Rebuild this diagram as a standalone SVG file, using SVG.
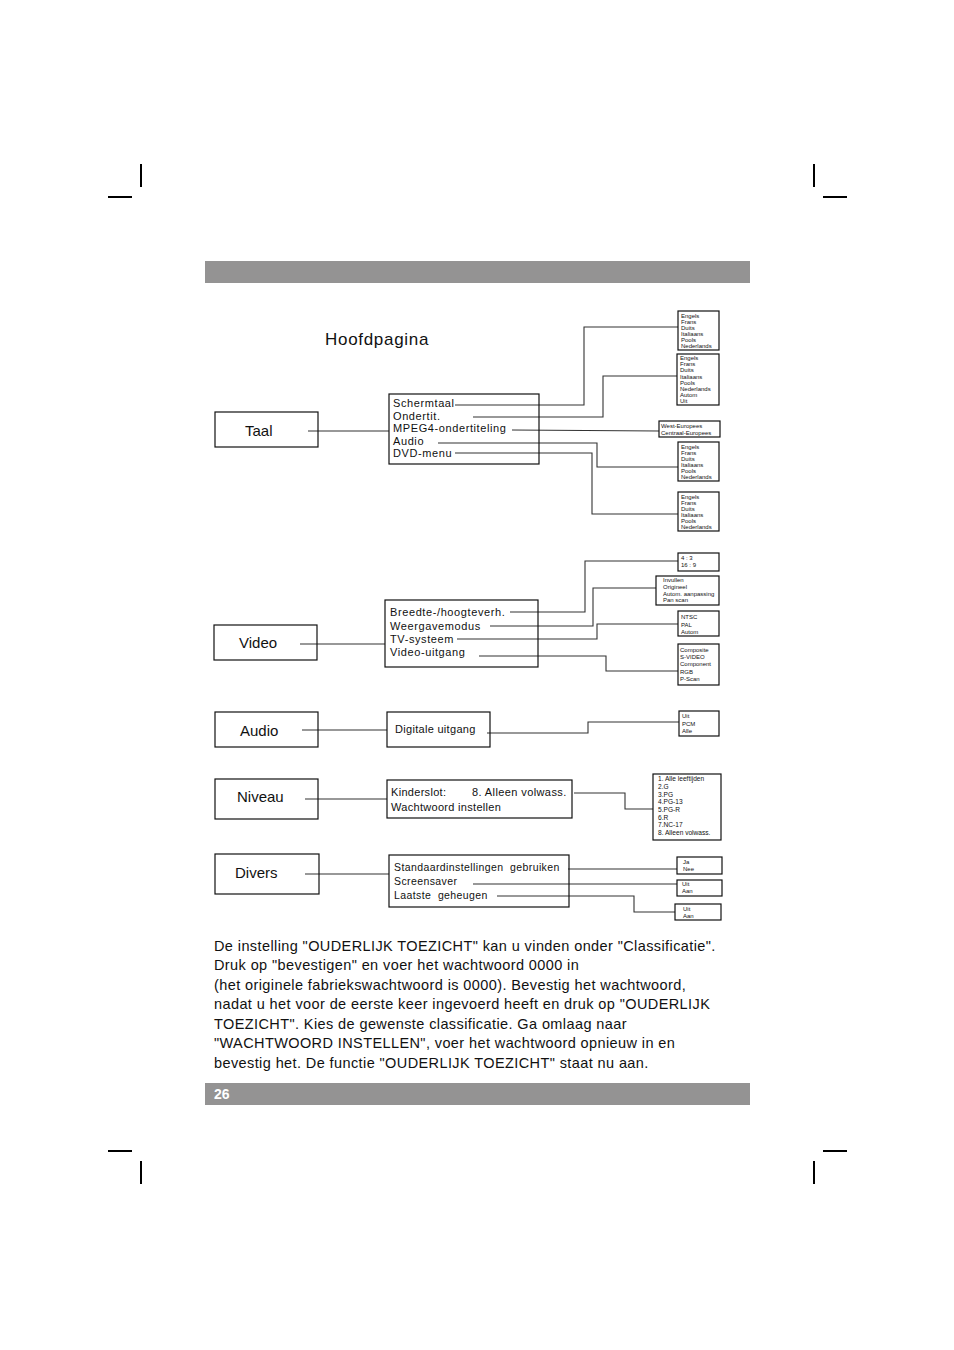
<svg xmlns="http://www.w3.org/2000/svg" width="954" height="1350" viewBox="0 0 954 1350">
<style>
text{font-family:"Liberation Sans",Arial,sans-serif;fill:#111}
.box{fill:none;stroke:#111;stroke-width:1.2}
.crop{stroke:#000;stroke-width:2}
.con{fill:none;stroke:#333;stroke-width:1.1}
.main{font-size:15px}
.sub{font-size:11px;letter-spacing:0.6px}
.tiny{font-size:6px}
.small{font-size:6.6px}
.para{font-size:14.5px;letter-spacing:0.4px}
.pre{white-space:pre}
</style>
<rect width="954" height="1350" fill="#fff"/>
<g id="cropmarks">
<line class="crop" x1="141" y1="164" x2="141" y2="187"/>
<line class="crop" x1="108" y1="197" x2="132" y2="197"/>
<line class="crop" x1="814" y1="164" x2="814" y2="187"/>
<line class="crop" x1="823" y1="197" x2="847" y2="197"/>
<line class="crop" x1="108" y1="1151" x2="132" y2="1151"/>
<line class="crop" x1="141" y1="1161" x2="141" y2="1184"/>
<line class="crop" x1="823" y1="1151" x2="847" y2="1151"/>
<line class="crop" x1="814" y1="1161" x2="814" y2="1184"/>
</g>
<rect id="header" x="205" y="261" width="545" height="22" fill="#949393"/>
<g id="footer"><rect x="205" y="1083" width="545" height="22" fill="#949393"/><text x="214" y="1099" style="font-size:14px;font-weight:bold;fill:#fff">26</text></g>
<text id="title" x="325" y="345" style="font-size:17px;letter-spacing:0.7px">Hoofdpagina</text>

<g id="connectors">
<line class="con" x1="308" y1="431" x2="389" y2="431"/>
<polyline class="con" points="455,405 584,405 584,327 678,327"/>
<polyline class="con" points="473,417 603,417 603,376 677,376"/>
<polyline class="con" points="512,430 659,431"/>
<polyline class="con" points="438,443 597,443 597,467 678,467"/>
<polyline class="con" points="455,453 592,453 592,514 678,514"/>
<line class="con" x1="300" y1="644" x2="385" y2="644"/>
<polyline class="con" points="510,612 585,612 585,561 678,561"/>
<polyline class="con" points="490,626 593,626 593,588 656,588"/>
<polyline class="con" points="457,639 597,639 597,624 678,624"/>
<polyline class="con" points="479,656 606,656 606,671 678,671"/>
<line class="con" x1="302" y1="730" x2="387" y2="730"/>
<polyline class="con" points="487,733 588,733 588,722 679,722"/>
<line class="con" x1="305" y1="799" x2="387" y2="799"/>
<polyline class="con" points="574,793 625,793 625,809 653,809"/>
<line class="con" x1="305" y1="874" x2="389" y2="874"/>
<polyline class="con" points="568,869 677,869"/>
<polyline class="con" points="473,884 677,884"/>
<polyline class="con" points="497,896 634,896 634,912 675,912"/>
</g>

<g id="taal"><rect class="box" x="215" y="412" width="103" height="35"/><text class="main" x="245" y="436">Taal</text></g>
<g id="taal-menu"><rect class="box" x="389" y="394" width="150" height="70"/>
<text class="sub" x="393" y="407">Schermtaal</text>
<text class="sub" x="393" y="420">Ondertit.</text>
<text class="sub" x="393" y="432">MPEG4-ondertiteling</text>
<text class="sub" x="393" y="445">Audio</text>
<text class="sub" x="393" y="457">DVD-menu</text></g>
<g id="taal-opt1"><rect class="box" x="678" y="311" width="41" height="39"/>
<text class="tiny" x="681" y="318">Engels</text><text class="tiny" x="681" y="324">Frans</text><text class="tiny" x="681" y="330">Duits</text><text class="tiny" x="681" y="336">Italiaans</text><text class="tiny" x="681" y="342">Pools</text><text class="tiny" x="681" y="348">Nederlands</text></g>
<g id="taal-opt2"><rect class="box" x="677" y="354" width="42" height="51"/>
<text class="tiny" x="680" y="360">Engels</text><text class="tiny" x="680" y="366">Frans</text><text class="tiny" x="680" y="372">Duits</text><text class="tiny" x="680" y="379">Italiaans</text><text class="tiny" x="680" y="385">Pools</text><text class="tiny" x="680" y="391">Nederlands</text><text class="tiny" x="680" y="397">Autom</text><text class="tiny" x="680" y="403">Uit</text></g>
<g id="taal-opt3"><rect class="box" x="659" y="421" width="61" height="16"/>
<text class="tiny" x="661" y="428">West-Europees</text><text class="tiny" x="661" y="435">Centraal-Europees</text></g>
<g id="taal-opt4"><rect class="box" x="678" y="442" width="41" height="39"/>
<text class="tiny" x="681" y="449">Engels</text><text class="tiny" x="681" y="455">Frans</text><text class="tiny" x="681" y="461">Duits</text><text class="tiny" x="681" y="467">Italiaans</text><text class="tiny" x="681" y="473">Pools</text><text class="tiny" x="681" y="479">Nederlands</text></g>
<g id="taal-opt5"><rect class="box" x="678" y="492" width="41" height="39"/>
<text class="tiny" x="681" y="499">Engels</text><text class="tiny" x="681" y="505">Frans</text><text class="tiny" x="681" y="511">Duits</text><text class="tiny" x="681" y="517">Italiaans</text><text class="tiny" x="681" y="523">Pools</text><text class="tiny" x="681" y="529">Nederlands</text></g>

<g id="video"><rect class="box" x="214" y="625" width="103" height="35"/><text class="main" x="239" y="648">Video</text></g>
<g id="video-menu"><rect class="box" x="385" y="600" width="153" height="67"/>
<text class="sub" x="390" y="616">Breedte-/hoogteverh.</text>
<text class="sub" x="390" y="630">Weergavemodus</text>
<text class="sub" x="390" y="643">TV-systeem</text>
<text class="sub" x="390" y="656">Video-uitgang</text></g>
<g id="video-opt1"><rect class="box" x="678" y="553" width="41" height="18"/>
<text class="tiny" x="681" y="560">4 : 3</text><text class="tiny" x="681" y="567">16 : 9</text></g>
<g id="video-opt2"><rect class="box" x="656" y="576" width="63" height="29"/>
<text class="tiny" x="663" y="582">Invullen</text><text class="tiny" x="663" y="589">Origineel</text><text class="tiny" x="663" y="596">Autom. aanpassing</text><text class="tiny" x="663" y="602">Pan scan</text></g>
<g id="video-opt3"><rect class="box" x="678" y="611" width="41" height="25"/>
<text class="tiny" x="681" y="619">NTSC</text><text class="tiny" x="681" y="627">PAL</text><text class="tiny" x="681" y="634">Autom</text></g>
<g id="video-opt4"><rect class="box" x="678" y="644" width="41" height="41"/>
<text class="tiny" x="680" y="652">Composite</text><text class="tiny" x="680" y="659">S-VIDEO</text><text class="tiny" x="680" y="666">Component</text><text class="tiny" x="680" y="674">RGB</text><text class="tiny" x="680" y="681">P-Scan</text></g>

<g id="audio"><rect class="box" x="215" y="712" width="103" height="35"/><text class="main" x="240" y="736">Audio</text></g>
<g id="audio-menu"><rect class="box" x="387" y="712" width="103" height="35"/>
<text class="sub" x="395" y="733" style="letter-spacing:0.3px">Digitale uitgang</text></g>
<g id="audio-opt"><rect class="box" x="679" y="711" width="40" height="25"/>
<text class="tiny" x="682" y="718">Uit</text><text class="tiny" x="682" y="726">PCM</text><text class="tiny" x="682" y="733">Alle</text></g>

<g id="niveau"><rect class="box" x="215" y="779" width="103" height="40"/><text class="main" x="237" y="802">Niveau</text></g>
<g id="niveau-menu"><rect class="box" x="387" y="780" width="185" height="38"/>
<text class="sub" x="391" y="796" style="letter-spacing:0.3px">Kinderslot:</text>
<text class="sub" x="472" y="796" style="letter-spacing:0.4px">8. Alleen volwass.</text>
<text class="sub" x="391" y="811" style="letter-spacing:0.3px">Wachtwoord instellen</text></g>
<g id="niveau-opt"><rect class="box" x="653" y="774" width="68" height="66"/>
<text class="small" x="658" y="781">1. Alle leeftijden</text><text class="small" x="658" y="789">2.G</text><text class="small" x="658" y="797">3.PG</text><text class="small" x="658" y="804">4.PG-13</text><text class="small" x="658" y="812">5.PG-R</text><text class="small" x="658" y="820">6.R</text><text class="small" x="658" y="827">7.NC-17</text><text class="small" x="658" y="835">8. Alleen volwass.</text></g>

<g id="divers"><rect class="box" x="215" y="854" width="104" height="40"/><text class="main" x="235" y="878">Divers</text></g>
<g id="divers-menu"><rect class="box" x="389" y="855" width="180" height="52"/>
<text class="sub pre" x="394" y="871" style="font-size:10.5px;letter-spacing:0.4px">Standaardinstellingen  gebruiken</text>
<text class="sub" x="394" y="885" style="font-size:10.5px;letter-spacing:0.4px">Screensaver</text>
<text class="sub pre" x="394" y="899" style="font-size:10.5px;letter-spacing:0.4px">Laatste  geheugen</text></g>
<g id="divers-opt1"><rect class="box" x="677" y="857" width="45" height="17"/>
<text class="tiny" x="683" y="864">Ja</text><text class="tiny" x="683" y="871">Nee</text></g>
<g id="divers-opt2"><rect class="box" x="677" y="880" width="45" height="16"/>
<text class="tiny" x="682" y="886">Uit</text><text class="tiny" x="682" y="893">Aan</text></g>
<g id="divers-opt3"><rect class="box" x="675" y="904" width="46" height="16"/>
<text class="tiny" x="683" y="911">Uit</text><text class="tiny" x="683" y="918">Aan</text></g>

<g id="paragraph">
<text class="para" x="214" y="951">De instelling "OUDERLIJK TOEZICHT" kan u vinden onder "Classificatie".</text>
<text class="para" x="214" y="970">Druk op "bevestigen" en voer het wachtwoord 0000 in</text>
<text class="para" x="214" y="990">(het originele fabriekswachtwoord is 0000). Bevestig het wachtwoord,</text>
<text class="para" x="214" y="1009">nadat u het voor de eerste keer ingevoerd heeft en druk op "OUDERLIJK</text>
<text class="para" x="214" y="1029">TOEZICHT". Kies de gewenste classificatie. Ga omlaag naar</text>
<text class="para" x="214" y="1048">"WACHTWOORD INSTELLEN", voer het wachtwoord opnieuw in en</text>
<text class="para" x="214" y="1068">bevestig het. De functie "OUDERLIJK TOEZICHT" staat nu aan.</text>
</g>
</svg>
